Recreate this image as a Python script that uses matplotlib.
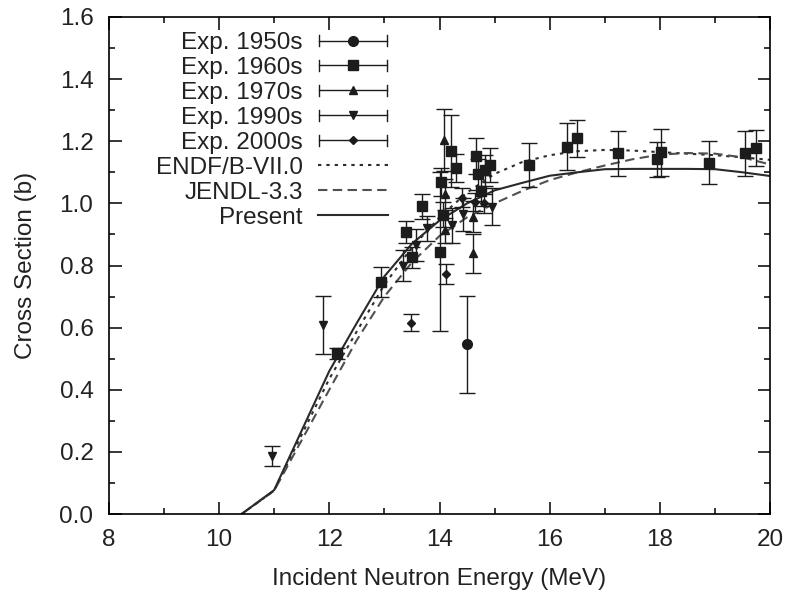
import matplotlib
matplotlib.use("Agg")
import matplotlib.pyplot as plt
from matplotlib.legend_handler import HandlerBase
from matplotlib.container import ErrorbarContainer
from matplotlib.lines import Line2D
from matplotlib.ticker import MultipleLocator, FormatStrFormatter

plt.rcParams['font.family'] = ['Liberation Sans', 'DejaVu Sans']

# ---- experimental data: energy (MeV), cross section (b), uncertainty (b) ----
e1950 = [14.49]
s1950 = [0.546]
d1950 = [0.157]

e1960 = [12.14, 12.93, 13.39, 13.51, 13.68, 14.01, 14.02, 14.06, 14.21, 14.30,
         14.67, 14.69, 14.75, 14.83, 14.92, 15.62, 16.31, 16.50, 17.23, 17.94,
         18.02, 18.89, 19.55, 19.75]
s1960 = [0.517, 0.748, 0.909, 0.826, 0.990, 0.845, 1.070, 0.963, 1.170, 1.113,
         1.152, 1.094, 1.040, 1.107, 1.124, 1.124, 1.183, 1.210, 1.161, 1.142,
         1.164, 1.131, 1.161, 1.177]
d1960 = [0.018, 0.048, 0.035, 0.035, 0.040, 0.256, 0.045, 0.040, 0.116, 0.045,
         0.058, 0.050, 0.050, 0.050, 0.055, 0.070, 0.076, 0.060, 0.073, 0.056,
         0.075, 0.070, 0.073, 0.058]

e1970 = [14.09, 14.10, 14.10, 14.61, 14.61]
s1970 = [1.204, 1.030, 0.914, 0.957, 0.839]
d1970 = [0.100, 0.050, 0.040, 0.050, 0.062]

e1990 = [10.97, 11.88, 13.33, 13.57, 13.77, 14.23, 14.43, 14.95]
s1990 = [0.187, 0.609, 0.800, 0.866, 0.920, 0.930, 0.965, 0.989]
d1990 = [0.033, 0.093, 0.050, 0.050, 0.040, 0.056, 0.053, 0.060]

e2000 = [13.48, 14.11, 14.40, 14.65, 14.80]
s2000 = [0.616, 0.772, 1.018, 1.005, 1.000]
d2000 = [0.028, 0.033, 0.030, 0.030, 0.030]

# ---- evaluated cross sections ----
e_eval = [10.41, 11.0, 12.0, 12.5, 13.0, 13.5, 14.0, 14.5, 15.0, 15.5,
          16.0, 16.5, 17.0, 17.5, 18.0, 18.5, 19.0, 19.5, 20.0]
endf = [0.0, 0.075, 0.435, 0.588, 0.738, 0.858, 0.955, 1.035, 1.095, 1.133,
        1.155, 1.168, 1.172, 1.170, 1.165, 1.160, 1.155, 1.148, 1.140]
jendl = [0.0, 0.075, 0.400, 0.560, 0.700, 0.810, 0.895, 0.955, 1.000, 1.040,
         1.075, 1.100, 1.122, 1.142, 1.157, 1.162, 1.160, 1.148, 1.125]
present = [0.0, 0.077, 0.460, 0.615, 0.765, 0.870, 0.945, 1.000, 1.042, 1.066,
           1.089, 1.100, 1.110, 1.111, 1.111, 1.111, 1.110, 1.100, 1.088]

labels_exp = ["Exp. 1950s", "Exp. 1960s", "Exp. 1970s", "Exp. 1990s", "Exp. 2000s"]
labels_eval = ["ENDF/B-VII.0", "JENDL-3.3", "Present"]

FS = 17.5
INK = "#1c1c1c"
TXT = "#222222"


class HandlerCappedBar(HandlerBase):
    """Horizontal bar with end caps and the series marker in the middle."""

    def create_artists(self, legend, orig_handle, xdescent, ydescent,
                       width, height, fontsize, trans):
        data_line = orig_handle.lines[0]
        y = (height - ydescent) / 2
        x0 = -xdescent + 1
        x1 = width - xdescent - 1
        cap = 0.32 * height
        bar = Line2D([x0, x1], [y, y], color=INK, lw=1.0)
        lc = Line2D([x0, x0], [y - cap, y + cap], color=INK, lw=1.0)
        rc = Line2D([x1, x1], [y - cap, y + cap], color=INK, lw=1.0)
        mk = Line2D([(x0 + x1) / 2], [y], marker=data_line.get_marker(),
                    ms=data_line.get_markersize(), color=INK, ls="none")
        arts = [bar, lc, rc, mk]
        for a in arts:
            a.set_transform(trans)
        return arts


fig = plt.figure(figsize=(7.88, 5.90), dpi=100)
ax = fig.add_axes([0.138, 0.1288, 0.8395, 0.8424])

# evaluations
l_endf, = ax.plot(e_eval, endf, color="#2e2e2e", lw=1.5, ls=(0, (1.6, 2.4)),
                  label=labels_eval[0], zorder=2)
l_jendl, = ax.plot(e_eval, jendl, color="#505050", lw=1.5, ls=(0, (4.5, 2.6)),
                   label=labels_eval[1], zorder=2)
l_pres, = ax.plot(e_eval, present, color="#2a2a2a", lw=1.5, ls="-",
                  label=labels_eval[2], zorder=2)

eb_kw = dict(ls="none", color=INK, ecolor=INK, elinewidth=1.0,
             capsize=5.5, capthick=1.0, zorder=3)
h50 = ax.errorbar(e1950, s1950, yerr=d1950, marker="o", ms=7.0,
                  label=labels_exp[0], **eb_kw)
h60 = ax.errorbar(e1960, s1960, yerr=d1960, marker="s", ms=7.5,
                  label=labels_exp[1], **eb_kw)
h70 = ax.errorbar(e1970, s1970, yerr=d1970, marker="^", ms=5.5,
                  label=labels_exp[2], **eb_kw)
h90 = ax.errorbar(e1990, s1990, yerr=d1990, marker="v", ms=5.5,
                  label=labels_exp[3], **eb_kw)
h00 = ax.errorbar(e2000, s2000, yerr=d2000, marker="D", ms=4.5,
                  label=labels_exp[4], **eb_kw)

ax.set_xlim(8, 20)
ax.set_ylim(0, 1.6)
ax.xaxis.set_major_locator(MultipleLocator(2))
ax.xaxis.set_minor_locator(MultipleLocator(1))
ax.yaxis.set_major_locator(MultipleLocator(0.2))
ax.yaxis.set_minor_locator(MultipleLocator(0.1))
ax.xaxis.set_major_formatter(FormatStrFormatter("%d"))
ax.yaxis.set_major_formatter(FormatStrFormatter("%.1f"))
ax.tick_params(which="both", direction="in", top=True, right=True,
               color="black", width=1.1, labelsize=FS, labelcolor=TXT)
ax.tick_params(which="major", length=9)
ax.tick_params(which="minor", length=4.5)
ax.tick_params(axis="y", pad=11)
ax.tick_params(axis="x", pad=11)
for sp in ax.spines.values():
    sp.set_linewidth(1.2)
    sp.set_color("black")

ax.set_xlabel("Incident Neutron Energy (MeV)", fontsize=FS, color=TXT)
ax.set_ylabel("Cross Section (b)", fontsize=FS, color=TXT)
ax.xaxis.set_label_coords(0.5, -0.108)
ax.yaxis.set_label_coords(-0.108, 0.5)

handles = [h50, h60, h70, h90, h00, l_endf, l_jendl, l_pres]
labels = labels_exp + labels_eval
fig.legend(handles, labels, loc="upper right",
           bbox_to_anchor=(388 / 788, 1 - 32 / 590),
           bbox_transform=fig.transFigure, frameon=False, markerfirst=False,
           fontsize=FS, handlelength=2.9, handletextpad=0.6,
           labelspacing=0.12, borderpad=0, borderaxespad=0,
           handler_map={ErrorbarContainer: HandlerCappedBar()},
           labelcolor=TXT)

fig.savefig("out.png", dpi=100)
